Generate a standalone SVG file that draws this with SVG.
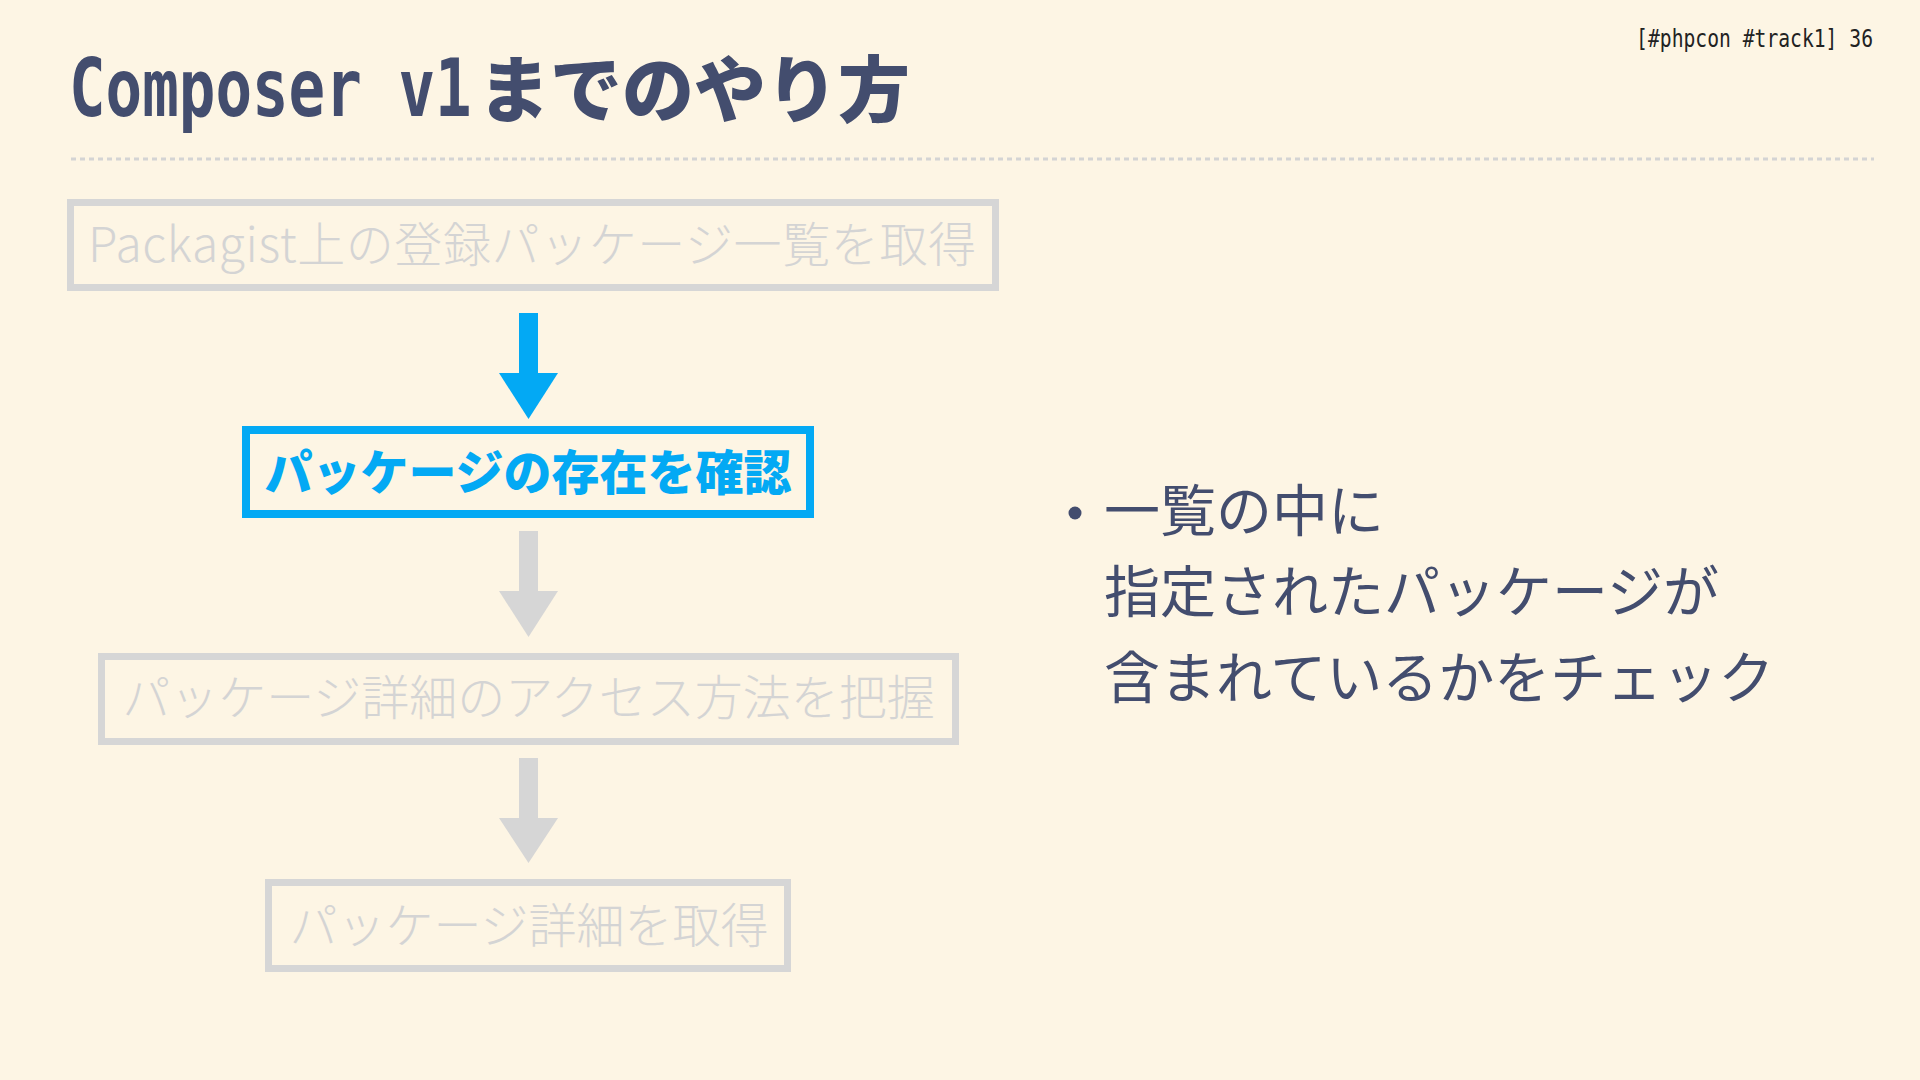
<svg xmlns="http://www.w3.org/2000/svg" width="1920" height="1080" viewBox="0 0 1920 1080">
<style>
.title{font-family:"DejaVu Sans Mono","Noto Sans CJK JP",monospace;font-weight:bold;fill:#434d6e}
.titlejp{font-family:"Noto Sans CJK JP",sans-serif;font-weight:900;fill:#434d6e}
.hdr{font-family:"DejaVu Sans Mono","Liberation Mono",monospace;font-size:24px;fill:#222222}
.gbox{fill:none;stroke:#d6d6d6;stroke-width:7}
.bbox{fill:none;stroke:#03a9f4;stroke-width:8}
.gtxt{font-family:"Noto Sans CJK JP",sans-serif;font-weight:300;font-size:48px;fill:#d4d4d4}
.btxt{font-family:"Noto Sans CJK JP",sans-serif;font-weight:900;font-size:48px;fill:#03a9f4}
.body{font-family:"Noto Sans CJK JP",sans-serif;font-weight:400;font-size:56px;fill:#434d6e}
.garrow{fill:#d6d6d6}
.barrow{fill:#03a9f4}
</style>
<rect x="0" y="0" width="1920" height="1080" fill="#fdf5e4"/>
<g id="header">
<text class="title" transform="translate(69,116) scale(0.76,1)" x="0" y="0" font-size="80">Composer v1</text>
<text class="titlejp" x="478" y="116" font-size="72">までのやり方</text>
<text class="hdr" transform="translate(1873,47) scale(0.82,1)" x="0" y="0" text-anchor="end">[#phpcon #track1] 36</text>
<line x1="71" y1="159" x2="1874" y2="159" stroke="#d4d4d4" stroke-width="3" stroke-dasharray="5 4"/>
</g>
<g id="connectors">
<rect class="barrow" x="519" y="313" width="19" height="62"/>
<polygon class="barrow" points="499,373 558,373 528.5,419"/>
<rect class="garrow" x="519" y="531" width="19" height="62"/>
<polygon class="garrow" points="499,591 558,591 528.5,637"/>
<rect class="garrow" x="519" y="758" width="19" height="62"/>
<polygon class="garrow" points="499,818 558,818 528.5,863"/>
</g>
<g id="node1">
<rect class="gbox" x="70.5" y="202.5" width="925" height="85"/>
<text class="gtxt" x="88" y="262" textLength="888">Packagist上の登録パッケージ一覧を取得</text>
</g>
<g id="node2">
<rect class="bbox" x="246" y="430" width="564" height="84"/>
<text class="btxt" x="528" y="490" text-anchor="middle">パッケージの存在を確認</text>
</g>
<g id="node3">
<rect class="gbox" x="101.5" y="656.5" width="854" height="85"/>
<text class="gtxt" x="528.5" y="715" text-anchor="middle">パッケージ詳細のアクセス方法を把握</text>
</g>
<g id="node4">
<rect class="gbox" x="268.5" y="882.5" width="519" height="86"/>
<text class="gtxt" x="529" y="943" text-anchor="middle">パッケージ詳細を取得</text>
</g>
<g id="notes">
<circle cx="1075" cy="513" r="6.5" fill="#434d6e"/>
<text class="body" x="1104" y="531">一覧の中に</text>
<text class="body" x="1104" y="612">指定されたパッケージが</text>
<text class="body" x="1104" y="698">含まれているかをチェック</text>
</g>
</svg>
